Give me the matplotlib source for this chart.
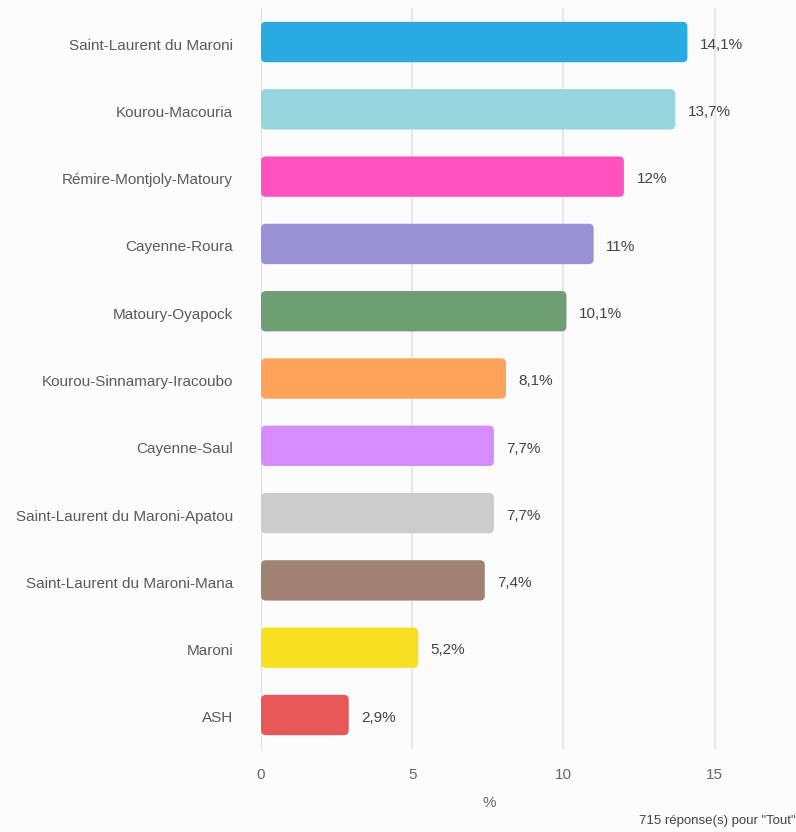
import matplotlib.pyplot as plt
import matplotlib.transforms as mtransforms
from matplotlib.patches import FancyBboxPatch

# Data
categories = ['Saint-Laurent du Maroni', 'Kourou-Macouria', 'Rémire-Montjoly-Matoury',
              'Cayenne-Roura', 'Matoury-Oyapock', 'Kourou-Sinnamary-Iracoubo',
              'Cayenne-Saul', 'Saint-Laurent du Maroni-Apatou',
              'Saint-Laurent du Maroni-Mana', 'Maroni', 'ASH']
values = [14.1, 13.7, 12, 11, 10.1, 8.1, 7.7, 7.7, 7.4, 5.2, 2.9]
labels = ['14,1%', '13,7%', '12%', '11%', '10,1%', '8,1%', '7,7%', '7,7%', '7,4%', '5,2%', '2,9%']
colors = ['#29aae1', '#96d5dd', '#ff52be', '#9993d6', '#6e9e72', '#ffa35a',
          '#d68bfe', '#cccccc', '#a08272', '#f7df22', '#e85757']
x_ticks = [0, 5, 10, 15]

plt.rcParams['font.family'] = ['Liberation Sans', 'DejaVu Sans']

bg = '#fcfcfd'
fig = plt.figure(figsize=(7.96, 8.32), dpi=100, facecolor=bg)
ax = fig.add_axes([0.3279, 0.1002, 0.5729, 0.8897], facecolor=bg)

y = list(range(len(categories)))
bars = ax.barh(y, values, height=0.6, color=colors, zorder=3)

# swap the square bars for rounded ones with the same geometry
for bar, c in zip(bars, colors):
    bar.set_visible(False)
    ax.add_patch(FancyBboxPatch((bar.get_x(), bar.get_y()), bar.get_width(), bar.get_height(),
                                boxstyle='round,pad=0,rounding_size=0.16',
                                mutation_aspect=0.45, facecolor=c, edgecolor='none',
                                zorder=3))

for bar, lab in zip(bars, labels):
    ax.annotate(lab, (bar.get_width(), bar.get_y() + bar.get_height() / 2),
                xytext=(9, -2), textcoords='offset points', va='center', ha='left',
                fontsize=11, color='#444444', annotation_clip=False)

ax.set_ylim(len(categories) - 0.5, -0.5)
ax.set_xlim(0, 15.08)
ax.set_yticks(y)
ax.set_yticklabels(categories, fontsize=11, color='#5a5a5a')
ax.set_xticks(x_ticks)
ax.set_xticklabels([str(t) for t in x_ticks], fontsize=11, color='#666666')
ax.tick_params(axis='y', length=0, pad=20)
ax.tick_params(axis='x', length=0, pad=14)

# nudge category labels slightly down like the original
shift = mtransforms.ScaledTranslation(0, -2 / 100, fig.dpi_scale_trans)
for t in ax.get_yticklabels():
    t.set_transform(t.get_transform() + shift)

ax.grid(axis='x', color='#e3e3e6', linewidth=1.2, zorder=0)
for s in ax.spines.values():
    s.set_visible(False)
ax.axvline(0, color='#ccd6eb', linewidth=1.5, zorder=1)

ax.set_xlabel('%', fontsize=11, color='#666666', labelpad=10)
fig.text(0.999, 0.006, '715 réponse(s) pour "Tout"', ha='right', va='bottom',
         fontsize=9.5, color='#444444')

fig.savefig('out.png', dpi=100, facecolor=bg)
